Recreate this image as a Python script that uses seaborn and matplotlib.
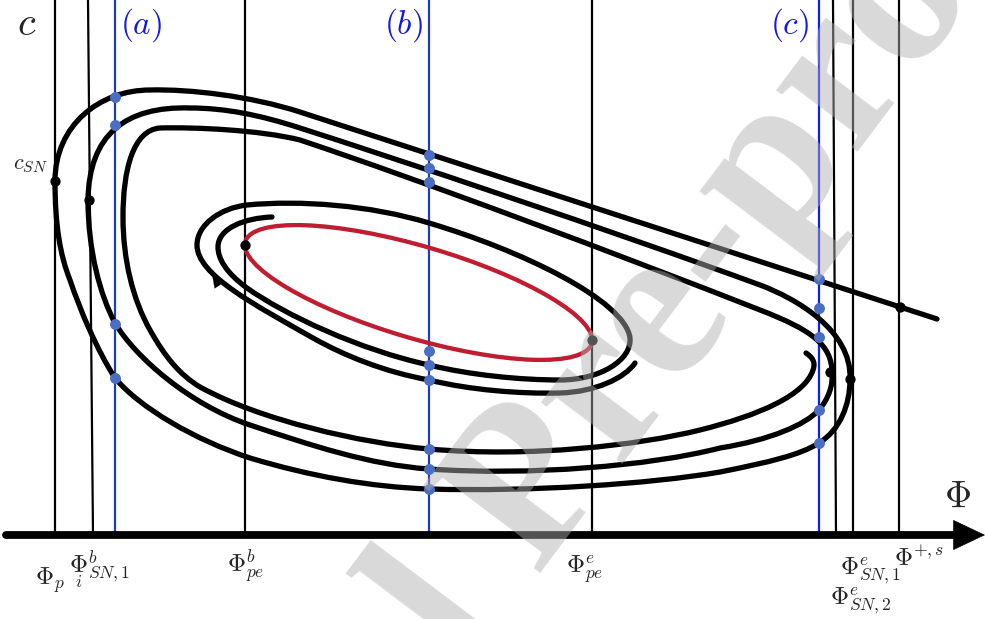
import matplotlib
matplotlib.use("Agg")
import matplotlib.pyplot as plt
from matplotlib.path import Path
from matplotlib.patches import PathPatch, Ellipse
import pandas as pd
import seaborn as sns

# ---- data (pixel-like units, y pointing down) ----
# vertical guide lines: x at the top edge and x where they meet the Phi axis
guide_top_x = [55, 88, 115, 245, 429, 592, 819, 833, 853, 899]
guide_bot_x = [55, 93, 115, 245, 429, 592, 819, 836, 853, 899]
guide_colors = ["black", "black", "#1f3db8", "black", "#1f3db8", "black",
                "#0b1eff", "black", "black", "black"]
axis_y = 535

section_x = [141, 403, 790]
section_labels = ["$(a)$", "$(b)$", "$(c)$"]

# intersections of trajectories with the sections (a), (b), (c)
blue_dot_x = [115] * 4 + [429] * 9 + [819] * 5
blue_dot_y = [97, 125, 324, 378,
              155, 168, 182, 351, 365, 380, 449, 469, 489,
              279, 308, 337, 410, 443]

# special points on the curves
black_dot_x = [55, 89, 245, 592, 830, 850, 900]
black_dot_y = [181, 200, 245, 340, 372, 379, 307]

# axis tick labels: text, left x, baseline y
tick_labels = [r"$\Phi_p$", r"$\Phi^b_{SN,1}$", r"$\Phi^b_{pe}$", r"$\Phi^e_{pe}$",
               r"$\Phi^e_{SN,1}$", r"$\Phi^{+,s}$", r"$\Phi^e_{SN,2}$"]
tick_x = [35, 69, 227, 566, 840, 894, 830]
tick_y = [585, 573, 573, 573, 575, 566, 605]

# big trajectory: start point + cubic segments (control 1, control 2, end)
outer_start = (937, 319)
outer_segments = [
    ((725, 250), (512, 181), (300, 112)),
    ((250, 96), (190, 89), (150, 90)),
    ((100, 90), (55, 125), (55, 181)),
    ((55, 225), (60, 255), (70, 280)),
    ((80, 310), (97, 350), (115, 378)),
    ((140, 408), (195, 440), (250, 458)),
    ((310, 476), (370, 487), (429, 489)),
    ((530, 492), (650, 484), (720, 472)),
    ((770, 462), (800, 455), (819, 443)),
    ((840, 430), (850, 405), (850, 379)),
    ((852, 330), (795, 298), (760, 285)),
    ((610, 230), (400, 160), (300, 128)),
    ((260, 115), (225, 108), (190, 108)),
    ((125, 106), (89, 135), (88, 200)),
    ((88, 250), (100, 295), (115, 323)),
    ((135, 357), (190, 405), (250, 425)),
    ((310, 445), (370, 465), (429, 469)),
    ((530, 476), (650, 466), (720, 448)),
    ((770, 440), (805, 425), (819, 410)),
    ((829, 398), (833, 385), (832, 373)),
    ((832, 345), (812, 330), (760, 310)),
    ((620, 255), (420, 180), (300, 140)),
    ((260, 130), (195, 127), (160, 128)),
    ((133, 130), (123, 170), (123, 217)),
    ((123, 260), (133, 300), (150, 330)),
    ((165, 357), (180, 375), (200, 387)),
    ((260, 420), (360, 443), (429, 449)),
    ((530, 458), (640, 445), (700, 430)),
    ((760, 415), (805, 395), (813, 370)),
    ((816, 362), (812, 357), (806, 353)),
]

# inner trajectory winding onto the limit cycle
inner_start = (635, 363)
inner_segments = [
    ((625, 378), (595, 392), (560, 393)),
    ((520, 394), (470, 390), (429, 380)),
    ((385, 372), (345, 356), (313, 338)),
    ((255, 305), (197, 275), (197, 245)),
    ((197, 225), (220, 208), (247, 205)),
    ((300, 200), (370, 205), (429, 223)),
    ((520, 250), (625, 300), (630, 338)),
    ((632, 360), (600, 380), (560, 380)),
    ((520, 380), (470, 375), (429, 365)),
    ((360, 350), (285, 315), (247, 288)),
    ((225, 272), (218, 258), (218, 247)),
    ((218, 228), (245, 218), (272, 217)),
]

# limit cycle (red): centre, full width, full height, tilt in degrees
cycle_center = (418.5, 292.5)
cycle_width = 361
cycle_height = 92
cycle_angle = 16.4


def bezier_path(start, segments):
    verts = [start]
    codes = [Path.MOVETO]
    for c1, c2, end in segments:
        verts += [c1, c2, end]
        codes += [Path.CURVE4] * 3
    return Path(verts, codes)


sns.set_theme(style="white")
plt.rcParams["mathtext.fontset"] = "cm"

fig = plt.figure(figsize=(9.85, 6.19), dpi=100)
ax = fig.add_axes([0, 0, 1, 1])

for xt, xb, col in zip(guide_top_x, guide_bot_x, guide_colors):
    ax.plot([xt, xb], [0, axis_y], color=col, lw=1.6, zorder=1)

# Phi axis with arrow head
ax.plot([6, 962], [axis_y, axis_y], color="black", lw=5.6,
        solid_capstyle="round", zorder=3)
ax.annotate("", xy=(985, axis_y), xytext=(950, axis_y),
            arrowprops=dict(arrowstyle="-|>,head_length=2.0,head_width=0.95",
                            mutation_scale=11, color="black", lw=0.5,
                            shrinkA=0, shrinkB=0), zorder=3)

for start, segs in [(outer_start, outer_segments), (inner_start, inner_segments)]:
    ax.add_patch(PathPatch(bezier_path(start, segs), facecolor="none",
                           edgecolor="black", lw=3.8, capstyle="round", zorder=2))

ax.add_patch(Ellipse(cycle_center, cycle_width, cycle_height, angle=cycle_angle,
                     facecolor="none", edgecolor="#be1e32", lw=3.1, zorder=2))

# direction arrow on the inner trajectory
ax.annotate("", xy=(212, 274), xytext=(220, 286),
            arrowprops=dict(arrowstyle="-|>,head_length=0.8,head_width=0.35",
                            mutation_scale=12, color="black", lw=0.1,
                            shrinkA=0, shrinkB=0), zorder=3)

dots = pd.DataFrame({"x": blue_dot_x, "y": blue_dot_y})
sns.scatterplot(data=dots, x="x", y="y", ax=ax, color="#4b6ec3", s=62,
                linewidth=0, zorder=4)
specials = pd.DataFrame({"x": black_dot_x, "y": black_dot_y})
sns.scatterplot(data=specials, x="x", y="y", ax=ax, color="black", s=55,
                linewidth=0, zorder=4)
ax.set_xlim(0, 985)
ax.set_ylim(619, 0)
ax.axis("off")

# labels
ax.text(27, 24, "$c$", fontsize=29, ha="center", va="center")
for x, lab in zip(section_x, section_labels):
    ax.text(x, 25, lab, fontsize=24, ha="center", va="center", color="#1414f0")
ax.text(30, 165, "$c_{SN}$", fontsize=16, ha="center", va="center")
ax.text(957, 497, r"$\Phi$", fontsize=27, ha="center", va="center")
for lab, x, y in zip(tick_labels, tick_x, tick_y):
    ax.text(x, y, lab, fontsize=18, ha="left", va="baseline")
ax.text(75, 587, "$i$", fontsize=13, ha="left", va="baseline")

# watermark
ax.text(530, 495, "Journal Pre-proof", fontsize=160, family="Liberation Serif",
        fontweight="bold", color="#b0b0b0", alpha=0.48, rotation=53,
        ha="center", va="center", rotation_mode="anchor", zorder=6)

fig.savefig("out.png", dpi=100)
